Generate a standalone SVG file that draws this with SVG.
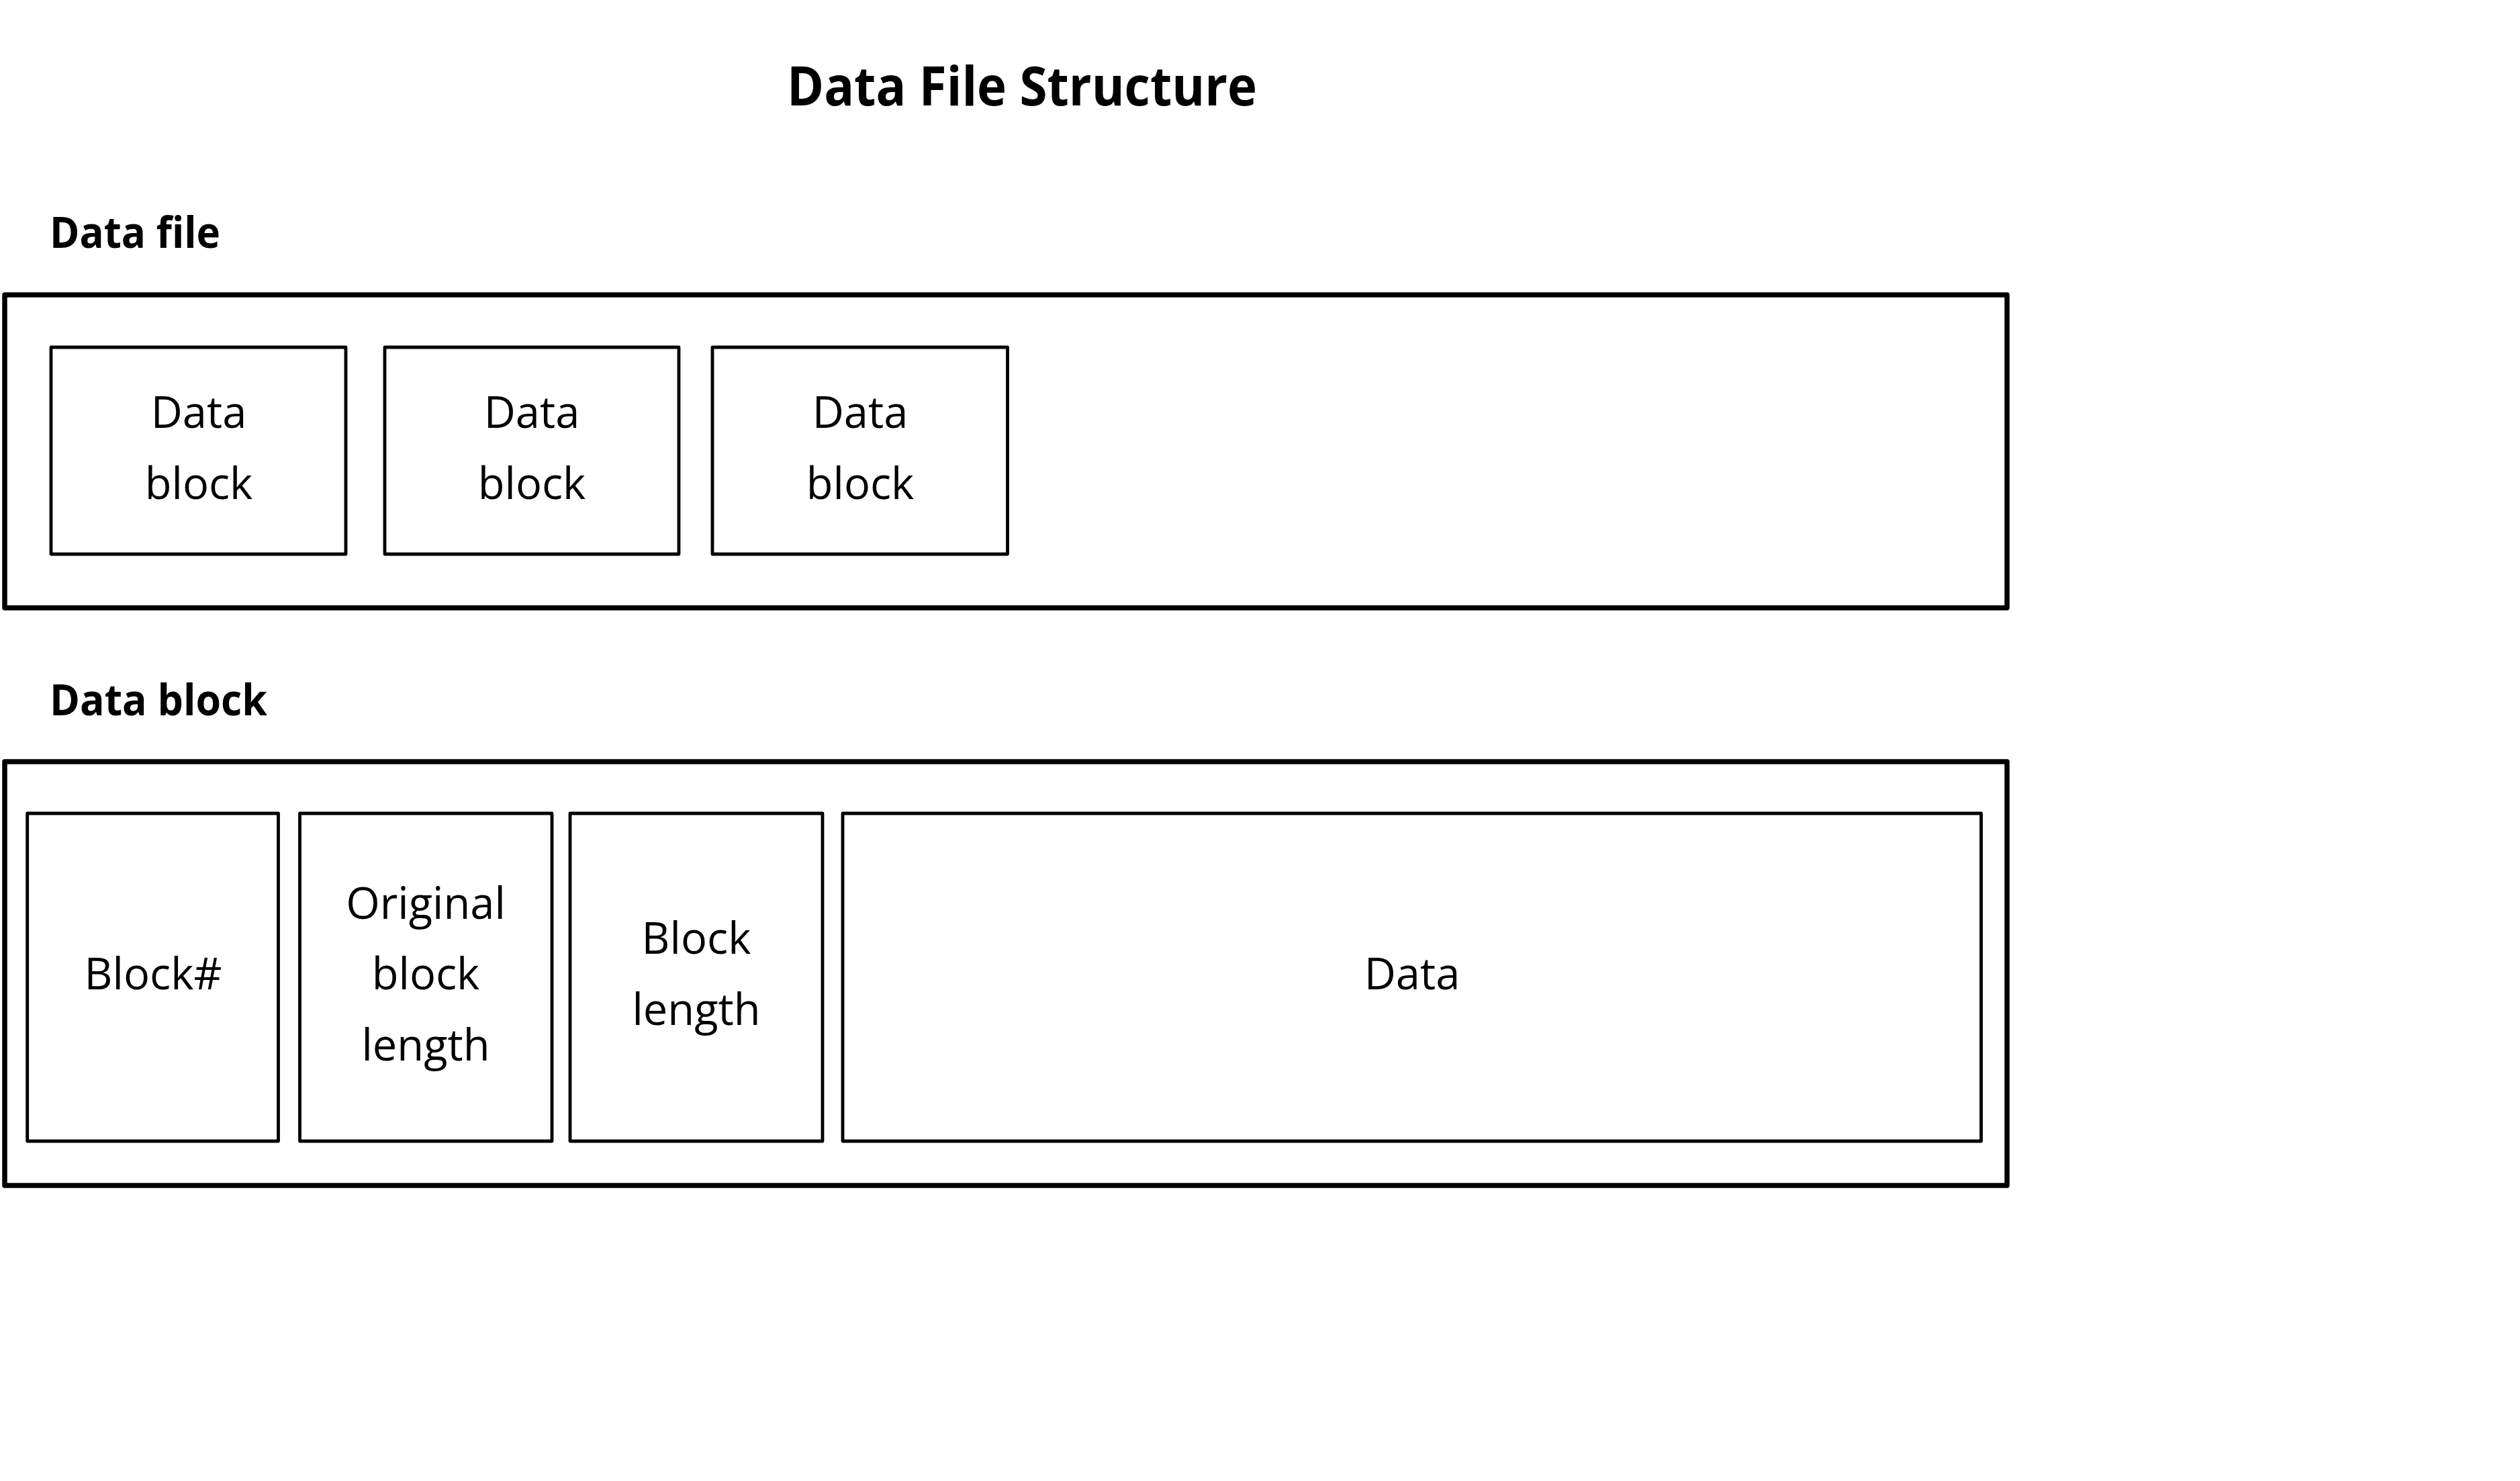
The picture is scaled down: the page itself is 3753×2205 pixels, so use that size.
<svg xmlns="http://www.w3.org/2000/svg" width="3753" height="2205" viewBox="0 0 3753 2205">
<style>
.outer{fill:none;stroke:#000;stroke-width:7.5;stroke-linejoin:round}
.inner{fill:none;stroke:#000;stroke-width:4.8;stroke-linejoin:round}
.lbl{font-family:"Open Sans","Noto Sans","Liberation Sans",sans-serif;font-size:65px;fill:#000;text-anchor:middle}
.hdr{font-family:"Open Sans","Noto Sans","Liberation Sans",sans-serif;font-weight:bold;font-size:64px;fill:#000}
.title{font-family:"Open Sans","Noto Sans","Liberation Sans",sans-serif;font-weight:bold;font-size:81px;fill:#000}
</style>
<rect width="3753" height="2205" fill="#fff"/>
<text class="title" x="1172" y="157" textLength="700" lengthAdjust="spacingAndGlyphs">Data File Structure</text>
<g id="data-file">
<text class="hdr" x="74" y="369" textLength="254" lengthAdjust="spacingAndGlyphs">Data file</text>
<rect class="outer" x="7" y="439" width="2982" height="466"/>
</g>
<g id="df-block-1">
<rect class="inner" x="76" y="517" width="439" height="308"/>
<text class="lbl" x="296" y="637">Data</text>
<text class="lbl" x="296" y="743">block</text>
</g>
<g id="df-block-2">
<rect class="inner" x="573" y="517" width="438" height="308"/>
<text class="lbl" x="792" y="637">Data</text>
<text class="lbl" x="792" y="743">block</text>
</g>
<g id="df-block-3">
<rect class="inner" x="1061" y="517" width="439.5" height="308"/>
<text class="lbl" x="1281" y="637">Data</text>
<text class="lbl" x="1281" y="743">block</text>
</g>
<g id="data-block">
<text class="hdr" x="74" y="1065" textLength="324" lengthAdjust="spacingAndGlyphs">Data block</text>
<rect class="outer" x="7" y="1134" width="2982" height="631"/>
</g>
<g id="field-blocknum">
<rect class="inner" x="40.7" y="1211" width="373.8" height="488"/>
<text class="lbl" x="228" y="1473">Block#</text>
</g>
<g id="field-original-length">
<rect class="inner" x="446.5" y="1211" width="375.5" height="488"/>
<text class="lbl" x="634" y="1368">Original</text>
<text class="lbl" x="634" y="1473">block</text>
<text class="lbl" x="634" y="1579">length</text>
</g>
<g id="field-block-length">
<rect class="inner" x="849" y="1211" width="376" height="488"/>
<text class="lbl" x="1037" y="1420">Block</text>
<text class="lbl" x="1037" y="1526">length</text>
</g>
<g id="field-data">
<rect class="inner" x="1255" y="1211" width="1695.5" height="488"/>
<text class="lbl" x="2103" y="1473">Data</text>
</g>
<g id="connectors"/>
</svg>
